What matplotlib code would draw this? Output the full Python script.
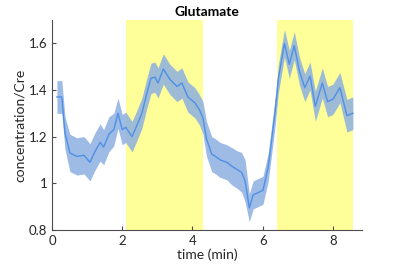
import numpy as np
import matplotlib
matplotlib.use('Agg')
import matplotlib.pyplot as plt

plt.rcParams['font.family'] = ['Lato', 'DejaVu Sans']

# time points (min) and mean glutamate/Cre
time_min = [0.14, 0.28, 0.37, 0.51, 0.71, 0.91, 1.08, 1.22, 1.37, 1.47,
            1.62, 1.76, 1.88, 2.00, 2.10, 2.28, 2.41, 2.56, 2.70, 2.82,
            2.93, 3.02, 3.17, 3.36, 3.56, 3.70, 3.87, 4.07, 4.20, 4.30,
            4.40, 4.55, 4.64, 4.79, 4.98, 5.12, 5.26, 5.40, 5.50, 5.62,
            5.73, 5.87, 6.01, 6.16, 6.26, 6.35, 6.45, 6.62, 6.76, 6.90,
            7.05, 7.20, 7.35, 7.50, 7.70, 7.85, 8.00, 8.20, 8.40, 8.57]
glu_mean = [1.37, 1.37, 1.215, 1.13, 1.115, 1.12, 1.09, 1.135, 1.175, 1.155,
            1.21, 1.23, 1.30, 1.23, 1.24, 1.20, 1.245, 1.30, 1.385, 1.45,
            1.455, 1.43, 1.49, 1.445, 1.415, 1.43, 1.37, 1.345, 1.315, 1.28,
            1.19, 1.125, 1.117, 1.10, 1.09, 1.073, 1.06, 1.047, 1.01, 0.895,
            0.95, 0.96, 0.97, 1.07, 1.19, 1.30, 1.45, 1.60, 1.51, 1.59,
            1.48, 1.41, 1.46, 1.33, 1.43, 1.35, 1.36, 1.41, 1.29, 1.30]
# half width of the shaded band
glu_err = [0.07, 0.07, 0.07, 0.08, 0.08, 0.08, 0.08, 0.08, 0.08, 0.075,
           0.075, 0.07, 0.065, 0.065, 0.065, 0.065, 0.065, 0.065, 0.065, 0.065,
           0.065, 0.065, 0.065, 0.065, 0.065, 0.065, 0.065, 0.065, 0.065, 0.07,
           0.075, 0.075, 0.075, 0.075, 0.075, 0.08, 0.08, 0.085, 0.09, 0.06,
           0.06, 0.06, 0.06, 0.06, 0.06, 0.06, 0.06, 0.06, 0.06, 0.06,
           0.06, 0.06, 0.06, 0.065, 0.065, 0.065, 0.065, 0.065, 0.07, 0.07]

# stimulation periods (min)
stim_blocks = [(2.1, 4.3), (6.4, 8.57)]

t = np.array(time_min)
m = np.array(glu_mean)
e = np.array(glu_err)

fig = plt.figure(figsize=(4.0, 2.67), dpi=100)
ax = fig.add_axes([0.13, 0.139, 0.775, 0.786])

for a, b in stim_blocks:
    ax.axvspan(a, b, color='#ffff99', lw=0, zorder=0)

ax.fill_between(t, m - e, m + e, color='#8cb0e0', alpha=0.85, lw=0, zorder=2)
ax.plot(t, m, color='#4f8fe6', lw=1.0, zorder=3)

ax.set_xlim(0, 8.83)
ax.set_ylim(0.8, 1.7)
ax.set_xticks([0, 2, 4, 6, 8])
ax.set_yticks([0.8, 1.0, 1.2, 1.4, 1.6])
ax.set_yticklabels(['0.8', '1', '1.2', '1.4', '1.6'])

for s in ['top', 'right']:
    ax.spines[s].set_visible(False)
for s in ['left', 'bottom']:
    ax.spines[s].set_color('#4d4d4d')
    ax.spines[s].set_linewidth(0.8)
ax.tick_params(direction='in', length=3, width=0.8, colors='#4d4d4d',
               labelsize=9.5, labelcolor='#262626')

ax.set_xlabel('time (min)', fontsize=10, color='#262626', labelpad=1)
ax.set_ylabel('concentration/Cre', fontsize=10, color='#262626', labelpad=2)
ax.set_title('Glutamate', fontsize=10, fontweight='bold', pad=3)

fig.savefig('out.png', dpi=100)
